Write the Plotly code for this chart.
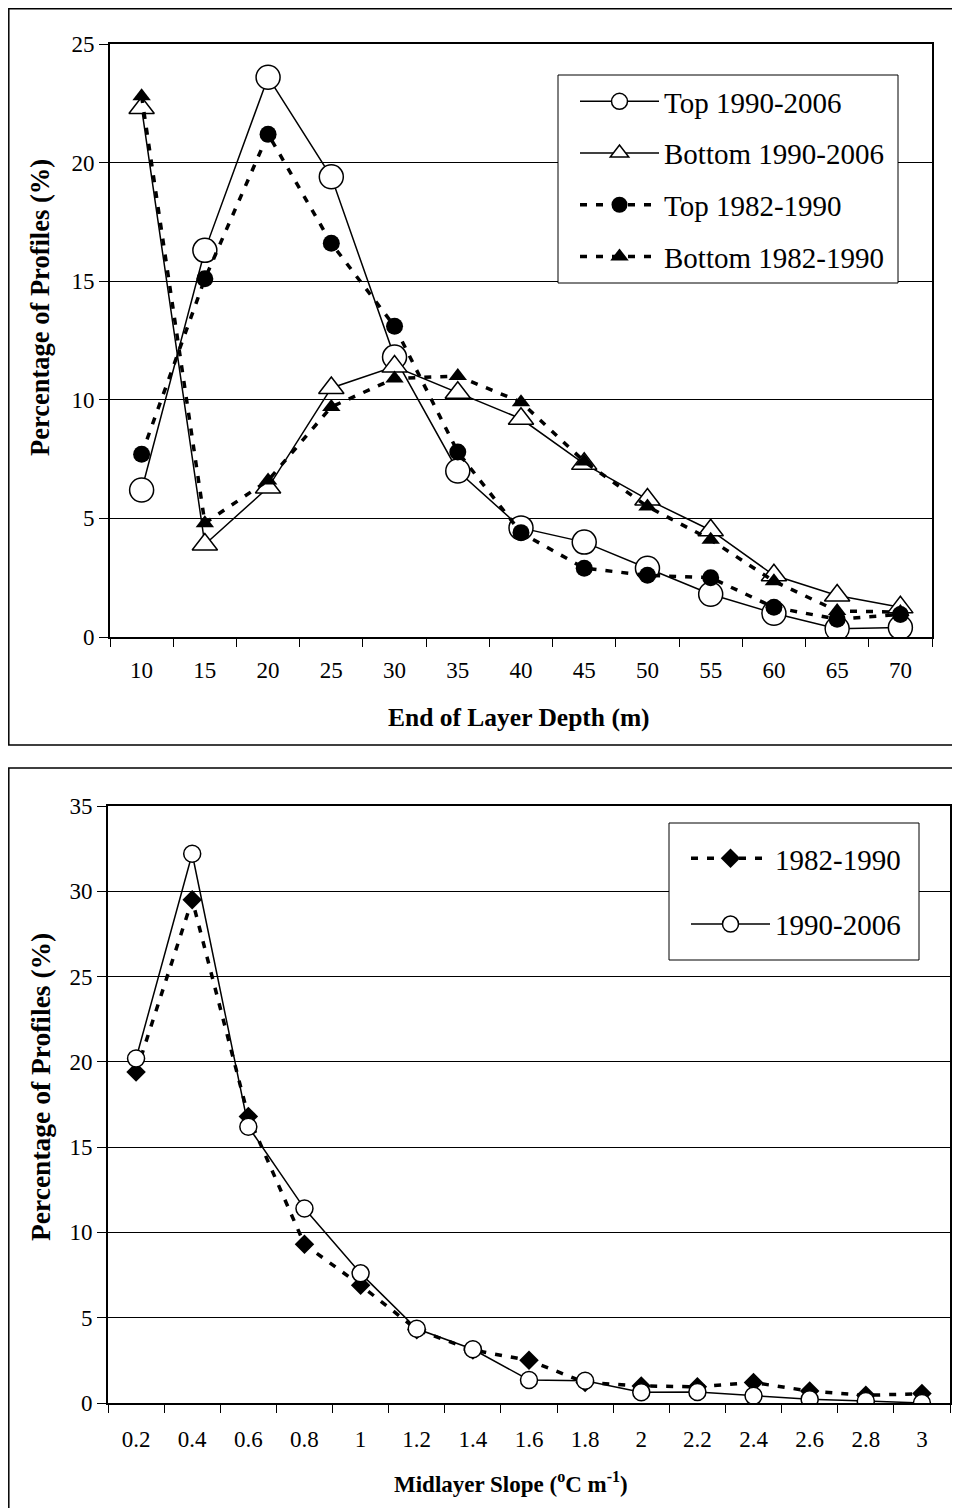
import plotly.graph_objects as go

# ---------------- data ----------------
depth_labels = ["10", "15", "20", "25", "30", "35", "40", "45", "50", "55", "60", "65", "70"]
top_1990_2006 = [6.2, 16.3, 23.6, 19.4, 11.8, 7.0, 4.6, 4.0, 2.9, 1.8, 1.0, 0.35, 0.4]
bottom_1990_2006 = [22.3, 3.9, 6.3, 10.5, 11.4, 10.3, 9.2, 7.3, 5.8, 4.5, 2.6, 1.75, 1.25]
top_1982_1990 = [7.7, 15.1, 21.2, 16.6, 13.1, 7.8, 4.4, 2.9, 2.6, 2.5, 1.25, 0.75, 0.95]
bottom_1982_1990 = [22.8, 4.8, 6.6, 9.7, 10.9, 11.0, 9.9, 7.4, 5.5, 4.1, 2.35, 1.1, 1.05]

slope_labels = ["0.2", "0.4", "0.6", "0.8", "1", "1.2", "1.4", "1.6", "1.8", "2",
                "2.2", "2.4", "2.6", "2.8", "3"]
slope_1982_1990 = [19.4, 29.5, 16.8, 9.3, 6.9, 4.3, 3.1, 2.5, 1.2, 1.0, 0.95, 1.2, 0.7, 0.45, 0.55]
slope_1990_2006 = [20.2, 32.2, 16.2, 11.4, 7.6, 4.35, 3.15, 1.35, 1.3, 0.63, 0.65, 0.42, 0.22, 0.12, 0.0]

# ---------------- geometry helpers (screen px -> paper; page has an 8px body offset) ----------------
W, H = 960, 1508
OFF = 8
def px(x):
    return (x - OFF) / W
def py(y):
    return 1 - (y - OFF) / H

FONT = "Liberation Serif, Times New Roman, serif"
DASH = "7px,9px"

fig = go.Figure()

# ---- top panel traces ----
fig.add_trace(go.Scatter(
    x=depth_labels, y=top_1990_2006, name="Top 1990-2006", mode="lines+markers",
    line=dict(color="black", width=1.5),
    marker=dict(symbol="circle", size=24, color="white", line=dict(color="black", width=1.5)),
    xaxis="x", yaxis="y", legend="legend", legendgroup="a"))
fig.add_trace(go.Scatter(
    x=depth_labels, y=bottom_1990_2006, name="Bottom 1990-2006", mode="lines+markers",
    line=dict(color="black", width=1.5),
    marker=dict(symbol="triangle-up", size=22, color="white", line=dict(color="black", width=1.5)),
    xaxis="x", yaxis="y", legend="legend", legendgroup="b"))
fig.add_trace(go.Scatter(
    x=depth_labels, y=top_1982_1990, name="Top 1982-1990", mode="lines+markers",
    line=dict(color="black", width=3.5, dash=DASH),
    marker=dict(symbol="circle", size=17, color="black"),
    xaxis="x", yaxis="y", legend="legend", legendgroup="c"))
fig.add_trace(go.Scatter(
    x=depth_labels, y=bottom_1982_1990, name="Bottom 1982-1990", mode="lines+markers",
    line=dict(color="black", width=3.5, dash=DASH),
    marker=dict(symbol="triangle-up", size=16, color="black"),
    xaxis="x", yaxis="y", legend="legend", legendgroup="d"))

# ---- bottom panel traces ----
fig.add_trace(go.Scatter(
    x=slope_labels, y=slope_1982_1990, name="1982-1990", mode="lines+markers",
    line=dict(color="black", width=3.5, dash=DASH),
    marker=dict(symbol="diamond", size=15, color="black"),
    xaxis="x2", yaxis="y2", legend="legend2", legendgroup="e"))
fig.add_trace(go.Scatter(
    x=slope_labels, y=slope_1990_2006, name="1990-2006", mode="lines+markers",
    line=dict(color="black", width=1.5),
    marker=dict(symbol="circle", size=17, color="white", line=dict(color="black", width=1.5)),
    xaxis="x2", yaxis="y2", legend="legend2", legendgroup="f"))

axis_common = dict(showline=True, linecolor="black", linewidth=2, mirror=True,
                   ticks="outside", tickcolor="black", tickwidth=1, automargin=False,
                   tickfont=dict(family=FONT, size=23, color="black"), zeroline=False)

fig.update_layout(
    width=W, height=H, margin=dict(l=0, r=0, t=0, b=0, autoexpand=False),
    paper_bgcolor="white", plot_bgcolor="white",
    font=dict(family=FONT, color="black"),
    xaxis=dict(axis_common, type="category", domain=[px(110), px(932)], anchor="y",
               range=[-0.5, 12.5], tickson="boundaries", ticklen=8, showgrid=False,
               ticklabelstandoff=11),
    yaxis=dict(axis_common, domain=[py(637), py(44)], anchor="x", range=[0, 25], dtick=5,
               ticklen=9, showgrid=True, gridcolor="black", gridwidth=1),
    xaxis2=dict(axis_common, type="category", domain=[px(108), px(950)], anchor="y2",
                range=[-0.5, 14.5], tickson="boundaries", ticklen=8, showgrid=False,
                ticklabelstandoff=14),
    yaxis2=dict(axis_common, domain=[py(1403), py(806)], anchor="x2", range=[0, 35], dtick=5,
                ticklen=9, showgrid=True, gridcolor="black", gridwidth=1),
    legend=dict(x=px(575), y=py(76), xanchor="left", yanchor="top",
                borderwidth=0, bgcolor="rgba(0,0,0,0)",
                font=dict(family=FONT, size=29, color="black"),
                itemwidth=79, tracegroupgap=11, traceorder="grouped"),
    legend2=dict(x=px(686), y=py(833), xanchor="left", yanchor="top",
                 borderwidth=0, bgcolor="rgba(0,0,0,0)",
                 font=dict(family=FONT, size=29, color="black"),
                 itemwidth=79, tracegroupgap=25, traceorder="grouped"),
    showlegend=True,
)

# axis titles
fig.add_annotation(text="<b>End of Layer Depth (m)</b>", xref="paper", yref="paper",
                   x=px(519), y=py(717), showarrow=False, xanchor="center", yanchor="middle",
                   font=dict(family=FONT, size=25.5, color="black"))
fig.add_annotation(text="<b>Percentage of Profiles (%)</b>", xref="paper", yref="paper",
                   x=px(40), y=py(308), showarrow=False, textangle=-90,
                   xanchor="center", yanchor="middle",
                   font=dict(family=FONT, size=26.5, color="black"))
fig.add_annotation(text="<b>Midlayer Slope (<sup>o</sup>C m<sup>-1</sup>)</b>",
                   xref="paper", yref="paper", x=px(511), y=py(1482), showarrow=False,
                   xanchor="center", yanchor="middle",
                   font=dict(family=FONT, size=23, color="black"))
fig.add_annotation(text="<b>Percentage of Profiles (%)</b>", xref="paper", yref="paper",
                   x=px(40), y=py(1087), showarrow=False, textangle=-90,
                   xanchor="center", yanchor="middle",
                   font=dict(family=FONT, size=27.5, color="black"))

# outer frames of both panels
fig.add_shape(type="rect", xref="paper", yref="paper",
              x0=0.8 / W, x1=1.02, y0=py(745), y1=1 - 0.8 / H,
              line=dict(color="black", width=1.5), fillcolor="rgba(0,0,0,0)", layer="below")
fig.add_shape(type="rect", xref="paper", yref="paper",
              x0=0.8 / W, x1=1.02, y0=py(1530), y1=py(768),
              line=dict(color="black", width=1.5), fillcolor="rgba(0,0,0,0)", layer="below")

# legend boxes
fig.add_shape(type="rect", xref="paper", yref="paper",
              x0=px(558), x1=px(898), y0=py(283), y1=py(75),
              line=dict(color="black", width=1), fillcolor="white", layer="above")
fig.add_shape(type="rect", xref="paper", yref="paper",
              x0=px(669), x1=px(919), y0=py(960), y1=py(823),
              line=dict(color="black", width=1), fillcolor="white", layer="above")

fig.write_html("out.html")
